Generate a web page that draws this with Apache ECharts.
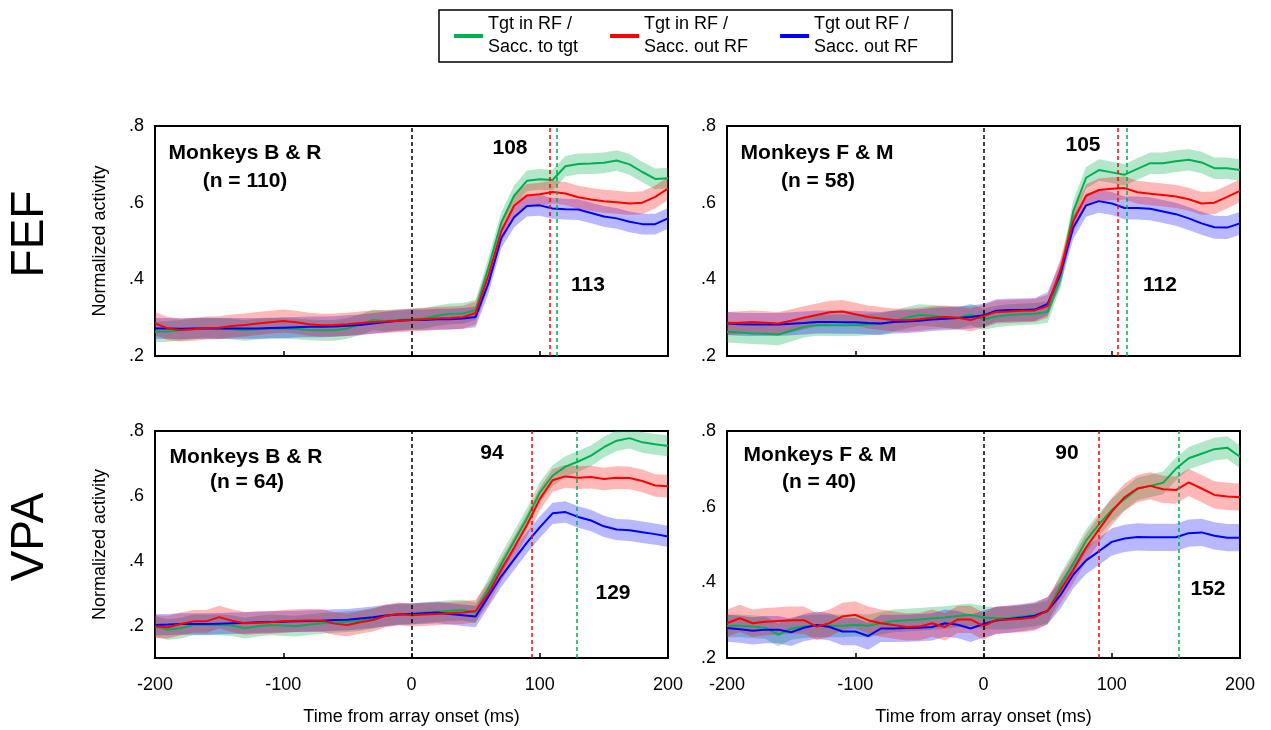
<!DOCTYPE html>
<html>
<head>
<meta charset="utf-8">
<title>Normalized activity, FEF and VPA</title>
<script src="https://cdn.jsdelivr.net/npm/echarts@6/dist/echarts.min.js"></script>
<style>
  html, body { margin: 0; padding: 0; background: #fff; }
  #chart { width: 1271px; height: 730px; }
</style>
</head>
<body>
<div id="chart"></div>
<script>
// time axis (ms from array onset), 10 ms steps
const times = [-200, -190, -180, -170, -160, -150, -140, -130, -120, -110,
  -100, -90, -80, -70, -60, -50, -40, -30, -20, -10,
  0, 10, 20, 30, 40, 50, 60, 70, 80, 90,
  100, 110, 120, 130, 140, 150, 160, 170, 180, 190, 200];

// FEF, monkeys B & R
const fefBRGreen = [0.263, 0.264, 0.267, 0.271, 0.273, 0.272, 0.270, 0.267, 0.270, 0.272,
  0.272, 0.271, 0.268, 0.267, 0.267, 0.272, 0.282, 0.294, 0.291, 0.294,
  0.296, 0.298, 0.305, 0.310, 0.311, 0.320, 0.430, 0.548, 0.618, 0.657,
  0.661, 0.659, 0.695, 0.701, 0.702, 0.704, 0.710, 0.700, 0.680, 0.662, 0.664];
const fefBRRed = [0.285, 0.272, 0.268, 0.270, 0.273, 0.274, 0.278, 0.281, 0.285, 0.288,
  0.291, 0.288, 0.283, 0.280, 0.281, 0.283, 0.286, 0.289, 0.290, 0.292,
  0.294, 0.296, 0.298, 0.299, 0.301, 0.312, 0.410, 0.525, 0.592, 0.619,
  0.622, 0.628, 0.624, 0.614, 0.608, 0.604, 0.601, 0.598, 0.600, 0.615, 0.637];
const fefBRBlue = [0.272, 0.272, 0.271, 0.272, 0.272, 0.272, 0.272, 0.272, 0.272, 0.273,
  0.274, 0.275, 0.276, 0.276, 0.277, 0.279, 0.281, 0.285, 0.289, 0.292,
  0.294, 0.294, 0.296, 0.296, 0.298, 0.302, 0.390, 0.508, 0.562, 0.591,
  0.593, 0.585, 0.583, 0.582, 0.573, 0.564, 0.559, 0.550, 0.544, 0.544, 0.559];

// FEF, monkeys F & M
const fefFMGreen = [0.263, 0.261, 0.259, 0.258, 0.256, 0.266, 0.276, 0.281, 0.280, 0.280,
  0.280, 0.282, 0.284, 0.291, 0.300, 0.307, 0.305, 0.302, 0.299, 0.308,
  0.296, 0.303, 0.307, 0.309, 0.310, 0.315, 0.405, 0.578, 0.665, 0.685,
  0.679, 0.673, 0.688, 0.703, 0.703, 0.708, 0.712, 0.705, 0.690, 0.690, 0.685];
const fefFMRed = [0.285, 0.287, 0.289, 0.287, 0.285, 0.292, 0.300, 0.307, 0.314, 0.316,
  0.309, 0.302, 0.298, 0.294, 0.293, 0.296, 0.300, 0.302, 0.300, 0.294,
  0.304, 0.315, 0.316, 0.318, 0.319, 0.330, 0.424, 0.552, 0.618, 0.633,
  0.636, 0.638, 0.627, 0.623, 0.620, 0.616, 0.609, 0.598, 0.600, 0.615, 0.631];
const fefFMBlue = [0.285, 0.283, 0.282, 0.282, 0.282, 0.284, 0.286, 0.289, 0.289, 0.288,
  0.288, 0.286, 0.285, 0.289, 0.290, 0.292, 0.295, 0.297, 0.299, 0.302,
  0.306, 0.318, 0.320, 0.320, 0.321, 0.336, 0.415, 0.535, 0.593, 0.604,
  0.598, 0.586, 0.586, 0.584, 0.577, 0.570, 0.559, 0.546, 0.536, 0.535, 0.546];

// VPA, monkeys B & R
const vpaBRGreen = [0.197, 0.188, 0.192, 0.202, 0.202, 0.202, 0.200, 0.192, 0.198, 0.202,
  0.200, 0.198, 0.203, 0.207, 0.210, 0.212, 0.215, 0.222, 0.230, 0.236,
  0.236, 0.240, 0.243, 0.246, 0.248, 0.240, 0.315, 0.390, 0.460, 0.530,
  0.610, 0.662, 0.690, 0.706, 0.724, 0.750, 0.770, 0.778, 0.765, 0.759, 0.754];
const vpaBRRed = [0.197, 0.195, 0.205, 0.213, 0.213, 0.226, 0.215, 0.207, 0.209, 0.210,
  0.213, 0.215, 0.216, 0.216, 0.206, 0.202, 0.210, 0.217, 0.230, 0.236,
  0.232, 0.234, 0.236, 0.238, 0.240, 0.245, 0.300, 0.372, 0.440, 0.510,
  0.590, 0.648, 0.660, 0.656, 0.658, 0.652, 0.656, 0.655, 0.646, 0.632, 0.630];
const vpaBRBlue = [0.202, 0.203, 0.205, 0.205, 0.205, 0.206, 0.207, 0.208, 0.210, 0.211,
  0.212, 0.213, 0.214, 0.215, 0.217, 0.218, 0.222, 0.226, 0.231, 0.234,
  0.236, 0.238, 0.240, 0.236, 0.232, 0.228, 0.290, 0.352, 0.404, 0.456,
  0.503, 0.546, 0.550, 0.535, 0.524, 0.506, 0.496, 0.494, 0.488, 0.482, 0.475];

// VPA, monkeys F & M
const vpaFMGreen = [0.285, 0.285, 0.283, 0.280, 0.261, 0.278, 0.283, 0.285, 0.285, 0.285,
  0.287, 0.285, 0.292, 0.298, 0.300, 0.302, 0.305, 0.307, 0.311, 0.314,
  0.307, 0.305, 0.306, 0.310, 0.314, 0.322, 0.392, 0.450, 0.510, 0.553,
  0.591, 0.620, 0.647, 0.655, 0.663, 0.700, 0.728, 0.740, 0.752, 0.756, 0.732];
const vpaFMRed = [0.292, 0.305, 0.292, 0.296, 0.298, 0.300, 0.300, 0.283, 0.292, 0.310,
  0.314, 0.300, 0.292, 0.287, 0.282, 0.283, 0.292, 0.282, 0.302, 0.302,
  0.284, 0.301, 0.302, 0.304, 0.308, 0.325, 0.380, 0.433, 0.492, 0.540,
  0.587, 0.625, 0.648, 0.655, 0.646, 0.644, 0.664, 0.648, 0.631, 0.627, 0.625];
const vpaFMBlue = [0.279, 0.276, 0.272, 0.275, 0.275, 0.268, 0.280, 0.287, 0.282, 0.270,
  0.270, 0.258, 0.278, 0.278, 0.279, 0.280, 0.282, 0.292, 0.288, 0.278,
  0.290, 0.299, 0.303, 0.307, 0.312, 0.325, 0.366, 0.420, 0.458, 0.482,
  0.507, 0.516, 0.520, 0.519, 0.519, 0.519, 0.530, 0.532, 0.523, 0.518, 0.518];

// half width of the shaded bands: green, red, blue
const fefBRSem = [0.027, 0.030, 0.027];
const fefFMSem = [0.028, 0.030, 0.030];
const vpaBRSem = [0.032, 0.035, 0.033];
const vpaFMSem = [0.030, 0.036, 0.036];

// dashed markers (ms): red = tgt in RF / sacc out, green = tgt in RF / sacc to tgt
const redMarkers = [108, 105, 94, 90];
const greenMarkers = [113, 112, 129, 152];

const monkeyLabels = ['Monkeys B & R', 'Monkeys F & M', 'Monkeys B & R', 'Monkeys F & M'];
const nLabels = ['(n = 110)', '(n = 58)', '(n = 64)', '(n = 40)'];

const FONT = '"Liberation Sans", Arial, sans-serif';
const GREEN = '#00B050', RED = '#FF0000', BLUE = '#0000FF';
const NAME_G = 'Tgt in RF /\nSacc. to tgt';
const NAME_R = 'Tgt in RF /\nSacc. out RF';
const NAME_B = 'Tgt out RF /\nSacc. out RF';

const panels = [
  { left: 155, top: 126, height: 230, yMin: 0.2, bottomAxis: false, yName: true,
    g: fefBRGreen, r: fefBRRed, b: fefBRBlue, sem: fefBRSem,
    monkey: [245, 153], n: [245, 181], redTxt: [510, 148], greenTxt: [588, 285] },
  { left: 727, top: 126, height: 230, yMin: 0.2, bottomAxis: false, yName: false,
    g: fefFMGreen, r: fefFMRed, b: fefFMBlue, sem: fefFMSem,
    monkey: [817, 153], n: [818, 181], redTxt: [1083, 145], greenTxt: [1160, 285] },
  { left: 155, top: 431, height: 227, yMin: 0.1, bottomAxis: true, yName: true,
    g: vpaBRGreen, r: vpaBRRed, b: vpaBRBlue, sem: vpaBRSem,
    monkey: [246, 457], n: [247, 482], redTxt: [492, 453], greenTxt: [613, 593] },
  { left: 727, top: 431, height: 227, yMin: 0.2, bottomAxis: true, yName: false,
    g: vpaFMGreen, r: vpaFMRed, b: vpaFMBlue, sem: vpaFMSem,
    monkey: [820, 455], n: [819, 482], redTxt: [1067, 453], greenTxt: [1208, 589] }
];

const chart = echarts.init(document.getElementById('chart'));

const grids = [], xAxes = [], yAxes = [], series = [], graphics = [];

function text(str, pos, font, extra) {
  return Object.assign({
    type: 'text', x: pos[0], y: pos[1],
    style: { text: str, font: font, fill: '#000', align: 'center', verticalAlign: 'middle' }
  }, extra || {});
}

// band polygon: upper edge left->right, lower edge right->left
function bandRenderer(color) {
  return function (params, api) {
    if (params.dataIndex !== 0) return null;
    const upper = [], lower = [];
    for (let k = 0; k < times.length; k++) {
      upper.push(api.coord([api.value(0, k), api.value(2, k)]));
      lower.push(api.coord([api.value(0, k), api.value(1, k)]));
    }
    return {
      type: 'polygon',
      shape: { points: upper.concat(lower.reverse()) },
      style: { fill: color, stroke: null }
    };
  };
}

panels.forEach((p, i) => {
  grids.push({ left: p.left, top: p.top, width: 513, height: p.height,
    show: true, borderColor: '#000', borderWidth: 2, backgroundColor: 'transparent' });

  xAxes.push({
    gridIndex: i, type: 'value', min: -200, max: 200, interval: 100,
    axisLine: { show: true, onZero: false, lineStyle: { color: '#000', width: 2 } },
    axisTick: { show: true, inside: true, length: 5, lineStyle: { color: '#000', width: 1.5 } },
    axisLabel: { show: p.bottomAxis, color: '#000', fontSize: 18, fontFamily: FONT, margin: 18 },
    splitLine: { show: false },
    name: p.bottomAxis ? 'Time from array onset (ms)' : '',
    nameLocation: 'middle', nameGap: 50,
    nameTextStyle: { color: '#000', fontSize: 18, fontFamily: FONT }
  });

  yAxes.push({
    gridIndex: i, type: 'value', min: p.yMin, max: 0.8, interval: 0.1,
    axisLine: { show: true, onZero: false, lineStyle: { color: '#000', width: 2 } },
    axisTick: { show: false },
    axisLabel: {
      color: '#000', fontSize: 18, fontFamily: FONT, margin: 11,
      formatter: v => { const k = Math.round(v * 10); return k % 2 === 0 ? '.' + k : ''; }
    },
    splitLine: { show: false },
    name: p.yName ? 'Normalized activity' : '',
    nameLocation: 'middle', nameGap: 46,
    nameTextStyle: { color: '#000', fontSize: 18, fontFamily: FONT }
  });

  const curves = [
    { vals: p.g, sem: p.sem[0], color: GREEN, band: 'rgba(0,176,80,0.30)', name: NAME_G },
    { vals: p.b, sem: p.sem[2], color: BLUE, band: 'rgba(0,0,255,0.28)', name: NAME_B },
    { vals: p.r, sem: p.sem[1], color: RED, band: 'rgba(255,0,0,0.28)', name: NAME_R }
  ];

  // shaded bands (mean +/- sem)
  curves.forEach(c => {
    series.push({
      type: 'custom', xAxisIndex: i, yAxisIndex: i, silent: true, clip: true, z: 1,
      renderItem: bandRenderer(c.band),
      encode: { x: 0, y: [1, 2] },
      data: times.map((t, k) => [t, c.vals[k] - c.sem, c.vals[k] + c.sem])
    });
  });

  // mean lines
  curves.forEach((c, j) => {
    const s = {
      type: 'line', name: c.name, xAxisIndex: i, yAxisIndex: i,
      symbol: 'none', z: 3,
      lineStyle: { color: c.color, width: 2 }, itemStyle: { color: c.color },
      data: times.map((t, k) => [t, c.vals[k]])
    };
    if (j === 2) {
      s.markLine = {
        silent: true, symbol: ['none', 'none'], label: { show: false },
        data: [
          { xAxis: 0, lineStyle: { color: '#000', type: [4, 3], width: 1.5 } },
          { xAxis: redMarkers[i], lineStyle: { color: RED, type: [4, 3], width: 1.5 } },
          { xAxis: greenMarkers[i], lineStyle: { color: GREEN, type: [4, 3], width: 1.5 } }
        ]
      };
    }
    series.push(s);
  });

  const bold = 'bold 21px ' + FONT;
  graphics.push(text(monkeyLabels[i], p.monkey, bold));
  graphics.push(text(nLabels[i], p.n, bold));
  graphics.push(text(String(redMarkers[i]), p.redTxt, bold));
  graphics.push(text(String(greenMarkers[i]), p.greenTxt, bold));
});

graphics.push(text('FEF', [30, 234], '46px ' + FONT, { rotation: Math.PI / 2 }));
graphics.push(text('VPA', [30, 537], '46px ' + FONT, { rotation: Math.PI / 2 }));

chart.setOption({
  animation: false,
  backgroundColor: '#fff',
  textStyle: { fontFamily: FONT },
  legend: {
    left: 439, top: 10, orient: 'horizontal',
    data: [NAME_G, NAME_R, NAME_B],
    icon: 'rect', itemWidth: 29, itemHeight: 4, itemGap: 32,
    selectedMode: false,
    borderColor: '#000', borderWidth: 1.5,
    padding: [3, 34, 3, 15],
    textStyle: { color: '#000', fontSize: 18, lineHeight: 23, fontFamily: FONT }
  },
  grid: grids,
  xAxis: xAxes,
  yAxis: yAxes,
  series: series,
  graphic: graphics
});
</script>
</body>
</html>
